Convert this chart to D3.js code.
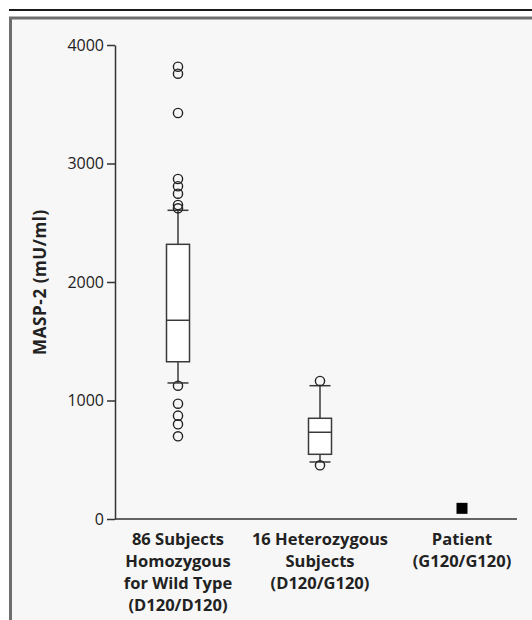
<!DOCTYPE html>
<html>
<head>
  <meta charset="utf-8">
  <script src="https://d3js.org/d3.v7.min.js"></script>
  <style>
    body { margin: 0; background: #fff; }
    text { font-family: "Open Sans", sans-serif; }
  </style>
</head>
<body>
<script>
  "use strict";

  // groups along the x axis (label lines)
  var categories = ["wt", "het", "pt"];
  var categoryLabels = [
    ["86 Subjects", "Homozygous", "for Wild Type", "(D120/D120)"],
    ["16 Heterozygous", "Subjects", "(D120/G120)"],
    ["Patient", "(G120/G120)"]
  ];

  // box stats: [lower whisker, Q1, median, Q3, upper whisker]
  var boxStats = [
    [1148, 1327, 1677, 2318, 2605],
    [481, 546, 732, 850, 1125]
  ];

  // outliers per box
  var outliers = [
    [3817, 3758, 3426, 2869, 2808, 2745, 2650, 2622, 1125, 973, 872, 799, 698],
    [1165, 453]
  ];

  // single patient value
  var patientValue = 90;

  var yTicks = [0, 1000, 2000, 3000, 4000];

  var width = 532, height = 620;

  var svg = d3.select("body").append("svg")
      .attr("width", width)
      .attr("height", height);

  // rule and panel
  svg.append("line")
      .attr("x1", 9).attr("x2", width)
      .attr("y1", 10).attr("y2", 10)
      .attr("stroke", "#1a1a1a").attr("stroke-width", 2);

  svg.append("rect")
      .attr("x", 10.5).attr("y", 18)
      .attr("width", width).attr("height", height)
      .attr("fill", "#f7f7f7")
      .attr("stroke", "#6e6e6e").attr("stroke-width", 3);

  var y = d3.scaleLinear().domain([0, 4000]).range([519, 45]);
  var x = d3.scalePoint().domain(categories).range([178, 462]);

  var yAxis = svg.append("g")
      .attr("transform", "translate(115,0)")
      .call(d3.axisLeft(y).tickValues(yTicks).tickFormat(d3.format("d"))
        .tickSize(8).tickSizeOuter(0).tickPadding(3));
  yAxis.selectAll("path, line").attr("stroke", "#333").attr("stroke-width", 1.5);
  yAxis.selectAll("text")
      .style("font-family", "Open Sans, sans-serif")
      .style("font-size", "16px")
      .attr("fill", "#222");

  // x axis line
  svg.append("line")
      .attr("x1", 115).attr("x2", 517)
      .attr("y1", y(0)).attr("y2", y(0))
      .attr("stroke", "#333").attr("stroke-width", 1.5);

  // y title
  svg.append("text")
      .attr("transform", "translate(46," + y(2000) + ") rotate(-90)")
      .attr("text-anchor", "middle")
      .style("font-size", "17px")
      .style("font-weight", "bold")
      .style("letter-spacing", "0.6px")
      .attr("fill", "#222")
      .text("MASP-2 (mU/ml)");

  // category labels
  categoryLabels.forEach(function(lines, i) {
    var t = svg.append("text")
        .attr("x", x(categories[i]))
        .attr("y", 545)
        .attr("text-anchor", "middle")
        .style("font-size", "16.5px")
        .style("font-weight", "bold")
        .attr("fill", "#222");
    lines.forEach(function(s, j) {
      t.append("tspan")
          .attr("x", x(categories[i]))
          .attr("dy", j === 0 ? 0 : 22)
          .text(s);
    });
  });

  var boxW = 23, capW = 21;
  var stroke = "#3a3a3a";

  boxStats.forEach(function(s, i) {
    var cx = x(categories[i]);
    var g = svg.append("g");
    // whiskers
    g.append("line")
        .attr("x1", cx).attr("x2", cx)
        .attr("y1", y(s[0])).attr("y2", y(s[4]))
        .attr("stroke", stroke).attr("stroke-width", 1.5);
    [s[0], s[4]].forEach(function(v) {
      g.append("line")
          .attr("x1", cx - capW / 2).attr("x2", cx + capW / 2)
          .attr("y1", y(v)).attr("y2", y(v))
          .attr("stroke", stroke).attr("stroke-width", 1.5);
    });
    g.append("rect")
        .attr("x", cx - boxW / 2).attr("width", boxW)
        .attr("y", y(s[3])).attr("height", y(s[1]) - y(s[3]))
        .attr("fill", "#fff")
        .attr("stroke", stroke).attr("stroke-width", 1.5);
    g.append("line")
        .attr("x1", cx - boxW / 2).attr("x2", cx + boxW / 2)
        .attr("y1", y(s[2])).attr("y2", y(s[2]))
        .attr("stroke", stroke).attr("stroke-width", 1.5);

    g.selectAll("circle")
        .data(outliers[i])
      .enter().append("circle")
        .attr("cx", cx)
        .attr("cy", function(d) { return y(d); })
        .attr("r", 4.6)
        .attr("fill", "none")
        .attr("stroke", "#222").attr("stroke-width", 1.4);
  });

  svg.append("rect")
      .attr("x", x("pt") - 5.5).attr("y", y(patientValue) - 5.5)
      .attr("width", 11).attr("height", 11)
      .attr("fill", "#000");
</script>
</body>
</html>
